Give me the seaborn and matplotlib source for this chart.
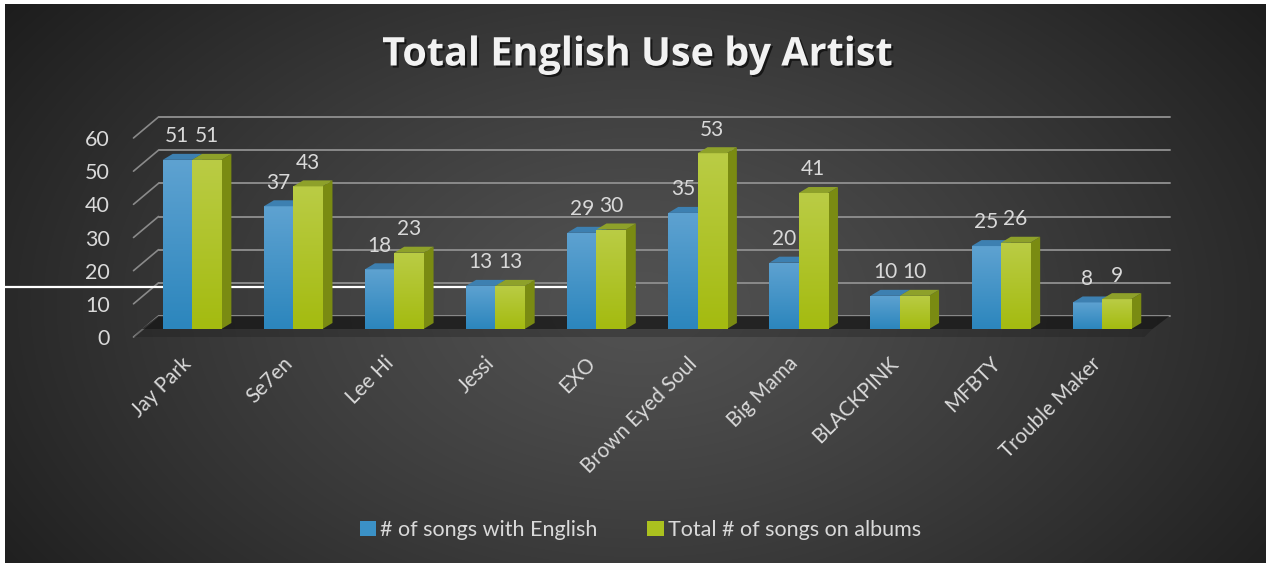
import numpy as np
import pandas as pd
import matplotlib
matplotlib.use("Agg")
import matplotlib.pyplot as plt
import matplotlib.transforms as mtransforms
import matplotlib.patheffects as pe
from matplotlib.patches import Polygon, Patch
from matplotlib.lines import Line2D
from matplotlib.colors import LinearSegmentedColormap
import seaborn as sns

# ---------------- data ----------------
artists = ["Jay Park", "Se7en", "Lee Hi", "Jessi", "EXO", "Brown Eyed Soul",
           "Big Mama", "BLACKPINK", "MFBTY", "Trouble Maker"]
songs_with_english = [51, 37, 18, 13, 29, 35, 20, 10, 25, 8]
total_songs = [51, 43, 23, 13, 30, 53, 41, 10, 26, 9]
series_names = ["# of songs with English", "Total # of songs on albums"]
y_ticks = [0, 10, 20, 30, 40, 50, 60]
title = "Total English Use by Artist"

df = pd.DataFrame({
    "artist": artists * 2,
    "value": songs_with_english + total_songs,
    "series": [series_names[0]] * len(artists) + [series_names[1]] * len(artists),
})

# ---------------- style ----------------
sns.set_style("dark")
plt.rcParams["font.family"] = ["Lato", "DejaVu Sans"]
TXT = "#d9d9d9"
BLUE = "#3b91c6"
GREEN = "#abc11f"

W, H = 1275, 567
fig = plt.figure(figsize=(W / 100, H / 100), dpi=100, facecolor="white")

# background radial gradient
bg = fig.add_axes([5 / W, 4 / H, 1261 / W, 559 / H], zorder=-10)
yy, xx = np.mgrid[0:559, 0:1261]
r = np.sqrt(((xx - 635) / 700.0) ** 2 + ((yy - 300) / 450.0) ** 2)
val = (0x52 - (0x52 - 0x24) * np.clip(r, 0, 1.2) ** 1.2) / 255.0
img = np.dstack([val, val, val])
bg.imshow(img, aspect="auto", interpolation="bilinear")
bg.set_axis_off()

# main axes (front plane of bars)
ax_l, ax_r, ax_b, ax_t = 141.5, 1152.5, 329, 130
ax = fig.add_axes([ax_l / W, (H - ax_b) / H, (ax_r - ax_l) / W, (ax_b - ax_t) / H])
ax.set_facecolor("none")
for s in ax.spines.values():
    s.set_visible(False)

XMIN, XMAX, YMIN, YMAX = -0.5, len(artists) - 0.5, 0, 60
pxx = (ax_r - ax_l) / (XMAX - XMIN)
pxy = (ax_b - ax_t) / (YMAX - YMIN)
dxb, dyb = 10 / pxx, 6 / pxy      # bar depth
dxw, dyw = 17 / pxx, 13 / pxy     # back wall offset
dxf, dyf = -8 / pxx, -8 / pxy     # floor front offset

sns.barplot(data=df, x="artist", y="value", hue="series", palette=[BLUE, GREEN],
            width=0.58, saturation=1, ax=ax, legend=False, zorder=3)

# back-wall gridlines and perspective connectors
for v in y_ticks:
    ax.add_line(Line2D([XMIN + dxw, XMAX + dxw], [v + dyw, v + dyw], color="#8a8a8a",
                       lw=1.4, zorder=1, clip_on=False))
    ax.add_line(Line2D([XMIN + dxf, XMIN + dxw], [v + dyf, v + dyw], color="#8a8a8a",
                       lw=1.2, zorder=1, clip_on=False))

# floor shadow
ax.add_patch(Polygon([(XMIN + dxf, dyf), (XMAX + dxf, dyf), (XMAX, 0), (XMIN, 0)],
                     closed=True, fc="#1a1a1a", alpha=0.3, ec="none", zorder=1.2, clip_on=False))
ax.add_patch(Polygon([(XMIN, 0), (XMAX, 0), (XMAX + dxw, dyw), (XMIN + dxw, dyw)],
                     closed=True, fc="#161616", alpha=0.75, ec="none", zorder=1.3, clip_on=False))

# stray white line
ax.add_line(Line2D([5 / W, 635 / W], [1 - 287 / H, 1 - 287 / H], transform=fig.transFigure,
                   color="white", lw=1.6, zorder=1.5, clip_on=False))

# 3D faces & gradients
bars = [p for p in ax.patches if hasattr(p, "get_height") and 0 < p.get_width() < 1]
n = len(artists)
blue_bars, green_bars = bars[:n], bars[n:2 * n]
cm_blue = LinearSegmentedColormap.from_list("b", ["#2c86bd", "#5ea2d1"])
cm_green = LinearSegmentedColormap.from_list("g", ["#a4bb10", "#bacc45"])
grad = np.linspace(0, 1, 64).reshape(-1, 1)
for group, cm, top_c, side_c, z in [(blue_bars, cm_blue, "#3d80b1", "#2a6a96", 3.0),
                                   (green_bars, cm_green, "#8ea12a", "#7a8b12", 3.5)]:
    for p in group:
        x0 = p.get_x(); w = p.get_width(); h = p.get_height(); x1 = x0 + w
        p.set_zorder(z)
        p.set_edgecolor("none")
        im = ax.imshow(grad, extent=[x0, x1, 0, h], origin="lower", cmap=cm,
                       aspect="auto", zorder=z + 0.01, interpolation="bilinear")
        im.set_clip_path(p)
        ax.add_patch(Polygon([(x0, h), (x1, h), (x1 + dxb, h + dyb), (x0 + dxb, h + dyb)],
                             closed=True, fc=top_c, ec="none", zorder=z + 0.02, clip_on=False))
        ax.add_patch(Polygon([(x1, 0), (x1 + dxb, dyb), (x1 + dxb, h + dyb), (x1, h)],
                             closed=True, fc=side_c, ec="none", zorder=z - 0.1, clip_on=False))
        ax.annotate(f"{int(h)}", (x0 + w / 2, h), xytext=(0, 17), textcoords="offset points",
                    ha="center", va="center", fontsize=15, color=TXT, zorder=6,
                    annotation_clip=False)

ax.set_xlim(XMIN, XMAX)
ax.set_ylim(YMIN, YMAX)

# y ticks
ax.set_yticks(y_ticks)
ax.set_yticklabels([str(v) for v in y_ticks])
ax.tick_params(axis="y", length=0, pad=22.7, labelsize=15.5, labelcolor=TXT)
dy_off = mtransforms.ScaledTranslation(0, -8 / 100, fig.dpi_scale_trans)
for lab in ax.get_yticklabels():
    lab.set_transform(lab.get_transform() + dy_off)

# x ticks
ax.set_xticks(range(n))
ax.set_xticklabels(artists, rotation=45, ha="right", rotation_mode="anchor")
ax.tick_params(axis="x", length=0, pad=17.5, labelsize=14.8, labelcolor=TXT)
dx_off = mtransforms.ScaledTranslation(-11 / 100, 0, fig.dpi_scale_trans)
for lab in ax.get_xticklabels():
    lab.set_transform(lab.get_transform() + dx_off)
ax.set_xlabel("")
ax.set_ylabel("")
ax.grid(False)

# title
fig.text(0.5, 1 - 55 / H, title, ha="center", va="center", fontsize=28.5, fontweight="bold",
         color="#f2f2f2", family=["Open Sans", "DejaVu Sans"],
         path_effects=[pe.withSimplePatchShadow(offset=(1.5, -1.5), shadow_rgbFace="black", alpha=0.6)])

# legend
handles = [Patch(fc=BLUE, ec="none"), Patch(fc=GREEN, ec="none")]
fig.legend(handles, series_names, loc="center", bbox_to_anchor=(640.5 / W, 1 - 530 / H), ncol=2,
           frameon=False, fontsize=15.5, labelcolor=TXT, handlelength=0.75, handleheight=0.75,
           handletextpad=0.2, columnspacing=2.3)

fig.savefig("out.png", dpi=100, facecolor="white")
